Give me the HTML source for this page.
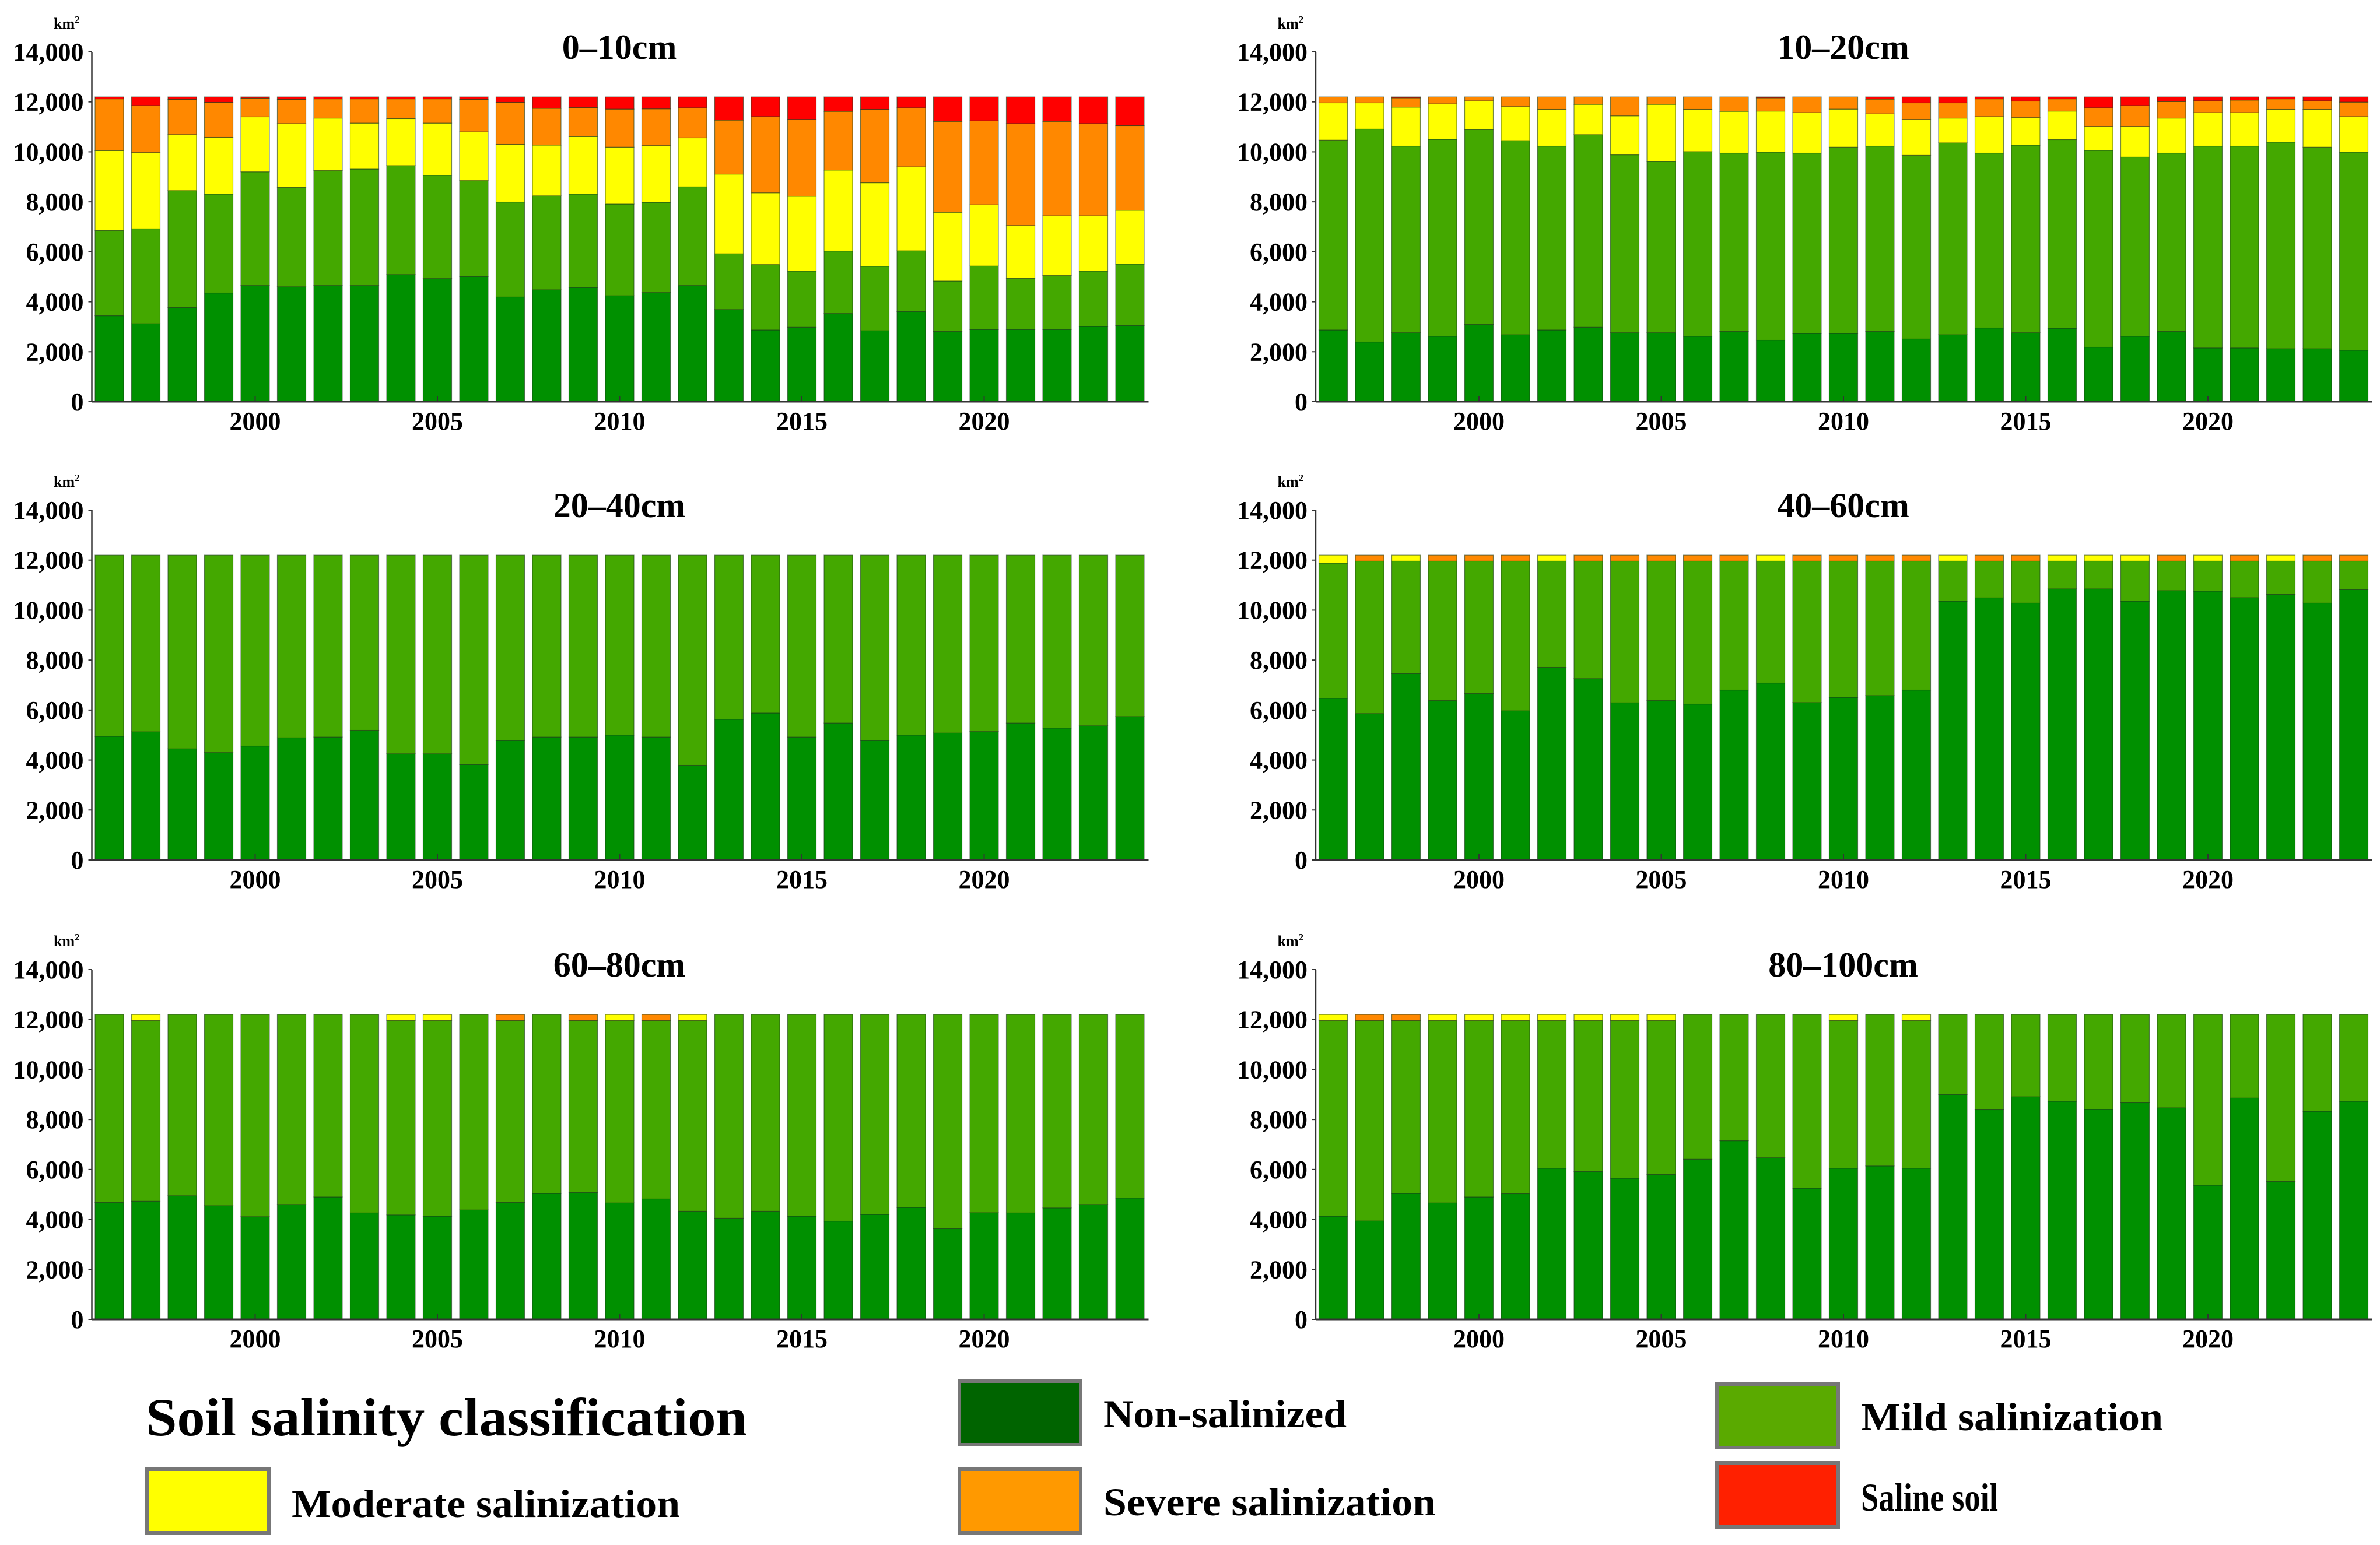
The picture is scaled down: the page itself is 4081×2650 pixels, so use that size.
<!DOCTYPE html>
<html><head><meta charset="utf-8">
<style>
html,body{margin:0;padding:0;background:#fff;}
svg{display:block;}
text{font-family:"Liberation Serif",serif;font-weight:bold;fill:#000;}
</style></head>
<body>
<svg id="chart" width="4081" height="2650" viewBox="0 0 4081 2650" xmlns="http://www.w3.org/2000/svg">
<g id="panels"></g>
<g id="legend">
  <text x="250" y="2462" font-size="92" textLength="1031" lengthAdjust="spacingAndGlyphs">Soil salinity classification</text>
  <g>
    <rect x="1645" y="2369" width="208" height="109" fill="#006400" stroke="#777" stroke-width="6"/>
    <text x="1892" y="2448" font-size="68" textLength="417" lengthAdjust="spacingAndGlyphs">Non-salinized</text>
  </g>
  <g>
    <rect x="2944" y="2374" width="208" height="109" fill="#5aaa00" stroke="#777" stroke-width="6"/>
    <text x="3191" y="2453" font-size="68" textLength="518" lengthAdjust="spacingAndGlyphs">Mild salinization</text>
  </g>
  <g>
    <rect x="252" y="2520" width="209" height="109" fill="#ffff00" stroke="#777" stroke-width="6"/>
    <text x="500" y="2602" font-size="68" textLength="666" lengthAdjust="spacingAndGlyphs">Moderate salinization</text>
  </g>
  <g>
    <rect x="1645" y="2520" width="208" height="109" fill="#ff9900" stroke="#777" stroke-width="6"/>
    <text x="1892" y="2599" font-size="68" textLength="570" lengthAdjust="spacingAndGlyphs">Severe salinization</text>
  </g>
  <g>
    <rect x="2944" y="2509" width="208" height="110" fill="#ff2000" stroke="#777" stroke-width="6"/>
    <text x="3191" y="2591" font-size="68" textLength="235" lengthAdjust="spacingAndGlyphs">Saline soil</text>
  </g>
</g>
</svg>
<script>
const years = [1996,1997,1998,1999,2000,2001,2002,2003,2004,2005,2006,2007,2008,2009,2010,2011,2012,2013,2014,2015,2016,2017,2018,2019,2020,2021,2022,2023,2024];
const yTicks = [0,2000,4000,6000,8000,10000,12000,14000];
const yTickLabels = ["0","2,000","4,000","6,000","8,000","10,000","12,000","14,000"];
const xTicks = [2000,2005,2010,2015,2020];
const panelTitles = ["0\u201310cm","10\u201320cm","20\u201340cm","40\u201360cm","60\u201380cm","80\u2013100cm"];

// 0-10cm
const p1NonSal = [3440,3120,3770,4350,4650,4600,4650,4650,5090,4930,5010,4190,4480,4570,4240,4370,4650,3690,2870,2980,3530,2840,3610,2810,2890,2890,2890,3010,3050];
const p1Mild = [3415,3800,4680,3960,4550,3980,4600,4660,4360,4130,3840,3800,3760,3740,3670,3610,3950,2230,2620,2250,2500,2580,2430,2020,2540,2050,2160,2220,2460];
const p1Moderate = [3195,3050,2240,2270,2200,2550,2100,1840,1880,2090,1950,2310,2030,2300,2280,2270,1960,3190,2870,2990,3240,3340,3360,2750,2450,2110,2390,2210,2150];
const p1Severe = [2070,1880,1410,1400,750,970,770,970,790,970,1300,1680,1470,1160,1520,1470,1200,2160,3050,3080,2350,2940,2360,3640,3360,4080,3780,3690,3390];
const p1Saline = [80,350,100,220,50,100,80,80,80,80,100,220,460,430,490,480,440,930,790,900,580,500,440,980,960,1070,980,1070,1150];
// 10-20cm
const p2NonSal = [2870,2390,2760,2620,3090,2680,2870,2980,2760,2760,2620,2810,2460,2730,2730,2810,2510,2680,2950,2760,2940,2180,2620,2810,2150,2150,2120,2120,2060];
const p2Mild = [7600,8520,7470,7880,7800,7770,7360,7710,7120,6850,7390,7140,7530,7220,7460,7420,7350,7680,7000,7510,7550,7880,7170,7140,8080,8080,8270,8070,7930];
const p2Moderate = [1490,1050,1560,1420,1150,1360,1470,1210,1560,2290,1690,1670,1640,1620,1520,1290,1440,990,1460,1100,1140,960,1230,1400,1340,1340,1310,1510,1420];
const p2Severe = [240,240,370,280,160,390,500,300,760,300,500,580,530,630,490,590,660,610,710,660,490,740,830,660,470,500,420,340,580];
const p2Saline = [0,0,40,0,0,0,0,0,0,0,0,0,40,0,0,90,240,240,80,170,80,440,350,190,160,130,80,160,210];
// 20-40cm
const p3NonSal = [4950,5130,4450,4300,4560,4890,4920,5190,4250,4250,3820,4780,4920,4920,5000,4920,3790,5630,5880,4920,5480,4780,5000,5080,5140,5480,5280,5370,5740];
const p3Mild = [7250,7070,7750,7900,7640,7310,7280,7010,7950,7950,8380,7420,7280,7280,7200,7280,8410,6570,6320,7280,6720,7420,7200,7120,7060,6720,6920,6830,6460];
const p3Moderate = [0,0,0,0,0,0,0,0,0,0,0,0,0,0,0,0,0,0,0,0,0,0,0,0,0,0,0,0,0];
const p3Severe = [0,0,0,0,0,0,0,0,0,0,0,0,0,0,0,0,0,0,0,0,0,0,0,0,0,0,0,0,0];
const p3Saline = [0,0,0,0,0,0,0,0,0,0,0,0,0,0,0,0,0,0,0,0,0,0,0,0,0,0,0,0,0];
// 40-60cm
const p4NonSal = [6470,5860,7460,6380,6660,5970,7710,7260,6290,6380,6240,6800,7080,6300,6510,6580,6800,10360,10490,10280,10850,10850,10360,10780,10760,10500,10630,10280,10820];
const p4Mild = [5410,6100,4500,5580,5300,5990,4250,4700,5670,5580,5720,5160,4880,5660,5450,5380,5160,1600,1470,1680,1110,1110,1600,1180,1200,1460,1330,1680,1140];
const p4Moderate = [320,0,240,0,0,0,240,0,0,0,0,0,240,0,0,0,0,240,0,0,240,240,240,0,240,0,240,0,0];
const p4Severe = [0,240,0,240,240,240,0,240,240,240,240,240,0,240,240,240,240,0,240,240,0,0,0,240,0,240,0,240,240];
const p4Saline = [0,0,0,0,0,0,0,0,0,0,0,0,0,0,0,0,0,0,0,0,0,0,0,0,0,0,0,0,0];
// 60-80cm
const p5NonSal = [4680,4730,4950,4550,4110,4600,4900,4260,4180,4130,4380,4680,5040,5080,4660,4820,4330,4050,4330,4130,3930,4200,4480,3630,4270,4260,4460,4600,4860];
const p5Mild = [7520,7230,7250,7650,8090,7600,7300,7940,7780,7830,7820,7280,7160,6880,7300,7140,7630,8150,7870,8070,8270,8000,7720,8570,7930,7940,7740,7600,7340];
const p5Moderate = [0,240,0,0,0,0,0,0,240,240,0,0,0,0,240,0,240,0,0,0,0,0,0,0,0,0,0,0,0];
const p5Severe = [0,0,0,0,0,0,0,0,0,0,0,240,0,240,0,240,0,0,0,0,0,0,0,0,0,0,0,0,0];
const p5Saline = [0,0,0,0,0,0,0,0,0,0,0,0,0,0,0,0,0,0,0,0,0,0,0,0,0,0,0,0,0];
// 80-100cm
const p6NonSal = [4130,3940,5040,4660,4900,5030,6050,5920,5650,5800,6410,7150,6470,5250,6050,6140,6050,9000,8390,8910,8730,8400,8670,8470,5370,8860,5520,8330,8730];
const p6Mild = [7830,8020,6920,7300,7060,6930,5910,6040,6310,6160,5790,5050,5730,6950,5910,6060,5910,3200,3810,3290,3470,3800,3530,3730,6830,3340,6680,3870,3470];
const p6Moderate = [240,0,0,240,240,240,240,240,240,240,0,0,0,0,240,0,240,0,0,0,0,0,0,0,0,0,0,0,0];
const p6Severe = [0,240,240,0,0,0,0,0,0,0,0,0,0,0,0,0,0,0,0,0,0,0,0,0,0,0,0,0,0];
const p6Saline = [0,0,0,0,0,0,0,0,0,0,0,0,0,0,0,0,0,0,0,0,0,0,0,0,0,0,0,0,0];

const panelSeries = [
  [p1NonSal,p1Mild,p1Moderate,p1Severe,p1Saline],
  [p2NonSal,p2Mild,p2Moderate,p2Severe,p2Saline],
  [p3NonSal,p3Mild,p3Moderate,p3Severe,p3Saline],
  [p4NonSal,p4Mild,p4Moderate,p4Severe,p4Saline],
  [p5NonSal,p5Mild,p5Moderate,p5Severe,p5Saline],
  [p6NonSal,p6Mild,p6Moderate,p6Severe,p6Saline]
];
const classNames = ["non-salinized","mild","moderate","severe","saline"];
const classColors = ["#009000","#44a800","#ffff00","#ff8800","#ff0000"];

const NS = "http://www.w3.org/2000/svg";
const root = document.getElementById("panels");
function mk(tag, attrs, parent){
  const e = document.createElementNS(NS, tag);
  for (const k in attrs) e.setAttribute(k, attrs[k]);
  parent.appendChild(e);
  return e;
}
const rowOffsets = [0, 786, 1574];
const colOffsets = [0, 2098.5];
const pxPerUnit = (689 - 89) / 14000;
const yearStep = 62.5;
const barW = 49;

panelSeries.forEach((series, p) => {
  const ox = colOffsets[p % 2], oy = rowOffsets[Math.floor(p / 2)];
  const axX = 157.5 + ox, axY = 689 + oy;
  const yScale = v => axY - v * pxPerUnit;
  const xScale = yr => axX + 30 + (yr - years[0]) * yearStep;
  const g = mk("g", {}, root);
  
  

  const title = mk("text", {x: 1062 + ox, y: 101 + oy, "font-size": 60, "text-anchor": "middle"}, g);
  title.textContent = panelTitles[p];
  
  

  const unit = mk("text", {x: 92 + ox, y: 49 + oy, "font-size": 26}, g);
  unit.innerHTML = 'km<tspan dy="-10" font-size="17">2</tspan>';
  
  

  // bars
  years.forEach((yr, i) => {
    let cum = 0;
    series.forEach((arr, c) => {
      const v = arr[i];
      if (v <= 0) { return; }
      const y1 = yScale(cum + v), y0 = yScale(cum);
      const r = mk("rect", {x: xScale(yr) - barW/2, y: y1, width: barW, height: y0 - y1, fill: classColors[c], stroke: "#1a3a1a", "stroke-width": 1.2, "stroke-opacity": 0.6}, g);
      
      
      cum += v;
    });
  });

  // axes
  const yAx = mk("line", {x1: axX, y1: yScale(14000), x2: axX, y2: axY, stroke: "#333", "stroke-width": 2.5}, g);
  
  
  const xAx = mk("line", {x1: axX, y1: axY, x2: axX + 1812, y2: axY, stroke: "#333", "stroke-width": 3}, g);
  
  

  yTicks.forEach((t, i) => {
    mk("line", {x1: axX - 6, y1: yScale(t), x2: axX, y2: yScale(t), stroke: "#333", "stroke-width": 2}, g);
    const lb = mk("text", {x: axX - 14, y: yScale(t) + 15, "font-size": 44, "text-anchor": "end"}, g);
    lb.textContent = yTickLabels[i];
    
    
  });
  xTicks.forEach(t => {
    mk("line", {x1: xScale(t), y1: axY, x2: xScale(t), y2: axY - 10, stroke: "#333", "stroke-width": 2}, g);
    const lb = mk("text", {x: xScale(t), y: axY + 48, "font-size": 44, "text-anchor": "middle"}, g);
    lb.textContent = String(t);
    
    
  });
});
</script>
</body></html>
